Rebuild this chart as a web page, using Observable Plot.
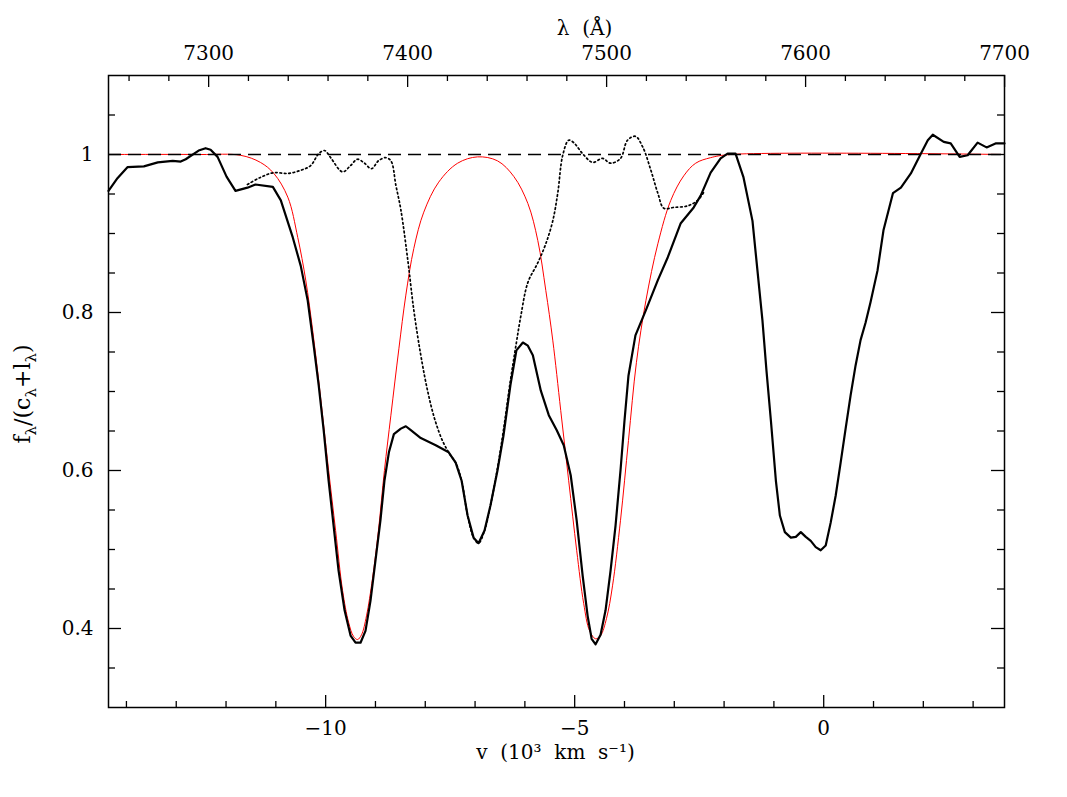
<!DOCTYPE html>
<html><head><meta charset="utf-8">
<script src="https://cdn.jsdelivr.net/npm/d3@7"></script>
<script src="https://cdn.jsdelivr.net/npm/@observablehq/plot@0.6"></script>
<style>html,body{margin:0;padding:0;background:#fff;} svg{display:block;}</style>
</head><body><div id="chart"></div>
<script>
// Observed spectrum (solid black)
const vObs = [-14.36,-14.18,-13.98,-13.65,-13.37,-13.07,-12.91,-12.81,-12.55,-12.41,-12.31,-12.17,-11.99,-11.81,-11.57,-11.41,-11.06,-10.90,-10.66,-10.50,-10.36,-10.24,-10.14,-10.04,-9.94,-9.84,-9.74,-9.62,-9.50,-9.40,-9.30,-9.20,-9.10,-9.00,-8.90,-8.82,-8.73,-8.63,-8.49,-8.39,-8.29,-8.09,-7.79,-7.53,-7.39,-7.27,-7.15,-7.03,-6.93,-6.81,-6.69,-6.55,-6.43,-6.29,-6.17,-6.04,-5.94,-5.84,-5.68,-5.52,-5.36,-5.22,-5.08,-4.96,-4.84,-4.74,-4.66,-4.58,-4.48,-4.38,-4.28,-4.18,-4.08,-4.00,-3.92,-3.78,-3.57,-3.33,-3.13,-2.87,-2.61,-2.47,-2.27,-2.07,-1.93,-1.77,-1.61,-1.43,-1.33,-1.23,-1.15,-1.06,-0.96,-0.88,-0.78,-0.66,-0.56,-0.46,-0.36,-0.26,-0.16,-0.06,0.04,0.14,0.24,0.34,0.44,0.54,0.64,0.74,0.84,0.94,1.08,1.20,1.39,1.55,1.75,1.95,2.09,2.19,2.41,2.55,2.73,2.89,3.09,3.27,3.45,3.63];
const fObs = [0.954,0.970,0.984,0.985,0.990,0.992,0.991,0.994,1.005,1.008,1.006,0.997,0.972,0.954,0.958,0.962,0.959,0.942,0.895,0.859,0.815,0.758,0.708,0.651,0.587,0.530,0.473,0.423,0.391,0.382,0.382,0.397,0.435,0.486,0.537,0.587,0.623,0.646,0.653,0.656,0.651,0.641,0.632,0.623,0.610,0.587,0.543,0.515,0.508,0.524,0.556,0.600,0.644,0.708,0.752,0.762,0.758,0.746,0.701,0.670,0.651,0.632,0.594,0.537,0.467,0.416,0.387,0.380,0.392,0.423,0.473,0.530,0.600,0.663,0.720,0.771,0.803,0.841,0.870,0.913,0.933,0.948,0.977,0.995,1.001,1.001,0.971,0.916,0.853,0.790,0.727,0.663,0.587,0.543,0.522,0.515,0.516,0.522,0.516,0.511,0.503,0.499,0.505,0.534,0.568,0.610,0.653,0.695,0.733,0.765,0.787,0.813,0.853,0.904,0.951,0.958,0.976,1.001,1.018,1.025,1.016,1.014,0.997,0.999,1.015,1.009,1.014,1.014];

// Model fit (red)
const vModel = [-14.36,-12.51,-11.71,-11.31,-11.04,-10.76,-10.56,-10.40,-10.26,-10.14,-10.04,-9.94,-9.80,-9.66,-9.54,-9.44,-9.36,-9.28,-9.18,-9.06,-8.94,-8.82,-8.69,-8.53,-8.39,-8.23,-8.03,-7.73,-7.35,-6.95,-6.55,-6.22,-5.94,-5.74,-5.58,-5.44,-5.28,-5.12,-4.96,-4.82,-4.70,-4.58,-4.48,-4.36,-4.24,-4.08,-3.92,-3.76,-3.57,-3.33,-3.07,-2.81,-2.57,-2.27,-1.87,3.63];
const fModel = [1.000,1.000,0.999,0.990,0.976,0.946,0.895,0.841,0.777,0.714,0.657,0.600,0.524,0.448,0.408,0.390,0.386,0.392,0.416,0.463,0.524,0.600,0.670,0.754,0.822,0.881,0.927,0.965,0.989,0.997,0.992,0.972,0.938,0.891,0.828,0.765,0.676,0.587,0.499,0.432,0.397,0.387,0.391,0.413,0.454,0.537,0.638,0.737,0.815,0.887,0.942,0.973,0.989,0.996,1.000,1.000];

// Dotted spectrum
const vDot = [-11.57,-11.31,-11.04,-10.76,-10.50,-10.30,-10.14,-10.02,-9.90,-9.66,-9.50,-9.36,-9.22,-9.08,-8.94,-8.80,-8.69,-8.59,-8.49,-8.35,-8.23,-8.09,-7.95,-7.81,-7.65,-7.51,-7.39,-7.27,-7.15,-7.03,-6.93,-6.81,-6.69,-6.55,-6.43,-6.29,-6.18,-6.08,-5.94,-5.74,-5.58,-5.44,-5.34,-5.24,-5.12,-5.02,-4.84,-4.64,-4.44,-4.28,-4.08,-3.94,-3.78,-3.63,-3.47,-3.33,-3.21,-3.01,-2.73,-2.53,-2.41];
const fDot = [0.962,0.971,0.977,0.976,0.980,0.986,1.001,1.005,0.996,0.978,0.986,0.994,0.989,0.982,0.992,0.996,0.992,0.961,0.930,0.866,0.803,0.746,0.700,0.665,0.637,0.621,0.610,0.587,0.543,0.515,0.508,0.524,0.556,0.603,0.651,0.714,0.758,0.796,0.838,0.863,0.887,0.916,0.951,0.999,1.018,1.015,1.001,0.990,0.995,0.989,0.995,1.018,1.023,1.009,0.980,0.951,0.932,0.933,0.935,0.942,0.952];

// Axis ticks
const vMajor = [-10, -5, 0];
const vMinor = [-14,-13,-12,-11,-9,-8,-7,-6,-4,-3,-2,-1,1,2,3];
const vLabels = ["\u221210", "\u22125", "0"];
const lamMajor = [7300, 7400, 7500, 7600, 7700];
const lamMinor = [7260,7280,7320,7340,7360,7380,7420,7440,7460,7480,7520,7540,7560,7580,7620,7640,7660,7680];
const fMajor = [0.4, 0.6, 0.8, 1.0];
const fMinor = [0.35,0.45,0.5,0.55,0.65,0.7,0.75,0.85,0.9,0.95,1.05];

// wavelength <-> velocity relation of the two x axes
const lam0 = 7609.1, lamPerV = 25.03;
const lamToV = l => (l - lam0) / lamPerV;

const W = 1067, H = 797, mL = 108, mR = 63, mT = 75, mB = 90;
const plotW = W - mL - mR, plotH = H - mT - mB;

const obs = vObs.map((v, i) => ({v, f: fObs[i]}));
const model = vModel.map((v, i) => ({v, f: fModel[i]}));
const dot = vDot.map((v, i) => ({v, f: fDot[i]}));

const font = "DejaVu Serif";
const chart = Plot.plot({
  width: W, height: H,
  marginLeft: mL, marginRight: mR, marginTop: mT, marginBottom: mB,
  x: {domain: [-14.36, 3.63], axis: null},
  y: {domain: [0.3, 1.1], axis: null},
  style: {fontFamily: font, fontSize: "20px", background: "white", color: "black"},
  marks: [
    Plot.line(model, {x: "v", y: "f", stroke: "#ff0000", strokeWidth: 1, curve: "catmull-rom"}),
    Plot.line(dot, {x: "v", y: "f", stroke: "black", strokeWidth: 1.7, strokeDasharray: "1.6 2.8", curve: "catmull-rom"}),
    Plot.line(obs, {x: "v", y: "f", stroke: "black", strokeWidth: 2.2}),
    Plot.ruleY([1], {stroke: "black", strokeWidth: 1.5, strokeDasharray: "13 7"}),
    // bottom ticks
    Plot.tickX(vMinor, {x: d => d, stroke: "black", strokeWidth: 1.3, insetTop: plotH - 6}),
    Plot.tickX(vMajor, {x: d => d, stroke: "black", strokeWidth: 1.3, insetTop: plotH - 12}),
    // top ticks
    Plot.tickX(lamMinor, {x: d => lamToV(d), stroke: "black", strokeWidth: 1.3, insetBottom: plotH - 6}),
    Plot.tickX(lamMajor, {x: d => lamToV(d), stroke: "black", strokeWidth: 1.3, insetBottom: plotH - 12}),
    // left ticks
    Plot.tickY(fMinor, {y: d => d, stroke: "black", strokeWidth: 1.3, insetRight: plotW - 7}),
    Plot.tickY(fMajor, {y: d => d, stroke: "black", strokeWidth: 1.3, insetRight: plotW - 13}),
    // right ticks
    Plot.tickY(fMinor, {y: d => d, stroke: "black", strokeWidth: 1.3, insetLeft: plotW - 7}),
    Plot.tickY(fMajor, {y: d => d, stroke: "black", strokeWidth: 1.3, insetLeft: plotW - 13}),
    Plot.frame({stroke: "black", strokeWidth: 1.5}),
    // tick labels
    Plot.text(vMajor, {x: d => d, text: (d, i) => vLabels[i], frameAnchor: "bottom", dy: 27, lineAnchor: "bottom", fill: "black"}),
    Plot.text(lamMajor, {x: d => lamToV(d), text: d => String(d), frameAnchor: "top", dy: -16, lineAnchor: "bottom", fill: "black"}),
    Plot.text(fMajor, {y: d => d, text: d => d3.format("~g")(d), frameAnchor: "left", dx: -15, textAnchor: "end", lineAnchor: "middle", fill: "black"}),
    // axis titles
    Plot.text(["\u03bb\u00a0\u00a0(\u00c5)"], {frameAnchor: "top", dx: 28, dy: -41, lineAnchor: "bottom", fill: "black"}),
    Plot.text(["v\u00a0\u00a0(10\u00b3\u00a0\u00a0km\u00a0\u00a0s\u207b\u00b9)"], {frameAnchor: "bottom", dx: -1, dy: 51, lineAnchor: "bottom", fill: "black"})
  ]
});

// y-axis title with subscripts
const svg = d3.select(chart);
const t = svg.append("text")
  .attr("transform", "translate(30,394) rotate(-90)")
  .attr("text-anchor", "middle")
  .attr("font-family", font)
  .attr("font-size", 22)
  .attr("fill", "black");
const parts = [["f", 0], ["\u03bb", 1], ["/(c", 0], ["\u03bb", 1], ["+l", 0], ["\u03bb", 1], [")", 0]];
let prev = 0;
for (const [s, sub] of parts) {
  t.append("tspan").attr("dy", (sub ? 6 : 0) - (prev ? 6 : 0)).attr("font-size", sub ? 15 : 22).text(s);
  prev = sub;
}

document.getElementById("chart").appendChild(chart);
</script>
</body></html>
